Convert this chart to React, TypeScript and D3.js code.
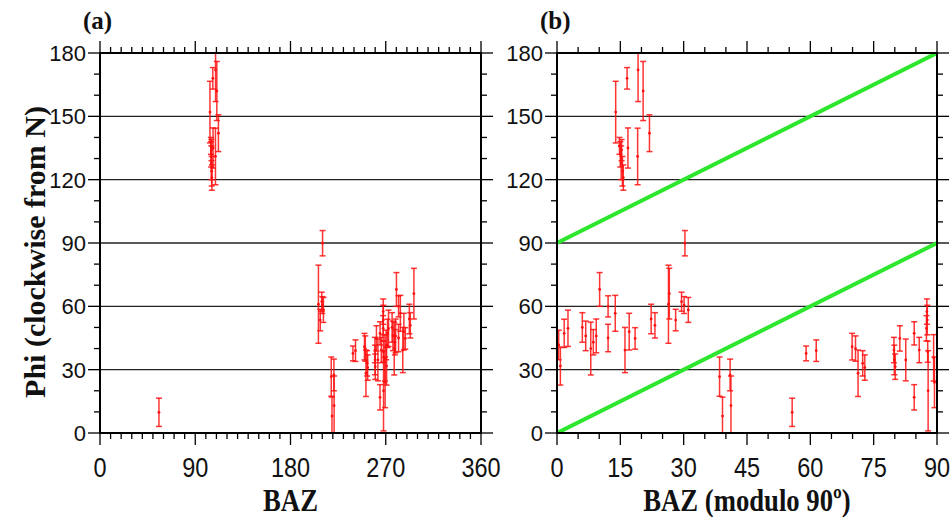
import React from 'react';
import * as d3 from 'd3';

// back azimuth (deg), fast polarisation direction phi (deg) and its error bar (deg)
const baz = [
  55.7,
  103.9, 106.6, 109.2, 110.4, 111.9, 104.8, 105.0, 105.2, 105.5, 105.7, 105.3, 106.8, 109.1,
  206.4, 208.1, 209.5, 210.1, 210.3, 211.1,
  218.5, 219.2, 221.0, 221.2,
  239.0, 241.4, 249.9, 250.7, 251.3, 252.4, 252.9,
  259.8, 259.9, 260.1, 261.2, 262.6, 264.6, 264.6, 265.8, 267.6, 267.7, 267.5, 267.8, 267.9, 269.2, 269.4,
  270.4, 270.8, 271.7, 272.6, 276.0, 276.8, 278.0, 278.6, 279.3, 280.1, 282.1, 282.1, 283.8, 286.1, 287.1, 288.5, 292.3, 293.2, 296.6,
];
const phi = [
  9.8,
  152, 168, 172, 162, 142, 136, 132, 128, 124, 121, 134, 135, 131,
  61, 53.5, 62.2, 60.6, 89.9, 58.3,
  26.7, 8, 27.5, 13,
  37.7, 39, 40.9, 40, 28.3, 33, 31,
  39.3, 34.6, 31.4, 44.8, 34.6, 47.2, 16.9, 39.3, 57.5, 53.5, 49.6, 38.5, 20, 35.6, 24,
  41.7, 31.7, 47.2, 49.6, 50, 46, 40, 43, 46, 68, 60, 45, 56.7, 39.3, 48, 44.8, 54, 51, 66,
];
const phiErr = [
  6.7,
  14.6, 5.1, 15, 14, 8.7, 4, 6, 8, 7, 6, 5, 9.5, 13.4,
  18.5, 5.1, 4.5, 4, 6, 5.9,
  9.3, 9, 7.5, 14,
  3.5, 5.1, 6.3, 6, 11, 6, 6,
  6, 7, 6, 6, 9.9, 5.5, 6, 6, 6, 7, 6, 5, 19, 11, 12,
  7, 9, 6.7, 8.6, 7, 7, 12.5, 6, 8, 8, 5, 6.5, 8.5, 10.7, 8.7, 5.1, 7, 6, 12,
];

// reference lines phi = BAZ and phi = BAZ + 90 in panel (b)
const refLines = [
  [[0, 0], [90, 90]],
  [[0, 90], [90, 180]],
];

const yTicks = [0, 30, 60, 90, 120, 150, 180];
const gridTicks = [30, 60, 90, 120, 150];
const xTicksA = [0, 90, 180, 270, 360];
const xTicksB = [0, 15, 30, 45, 60, 75, 90];

const TOP = 53;
const BOTTOM = 433;
const RED = '#ff1010';
const GREEN = '#2ee62e';
const SERIF = '"Liberation Serif", "Times New Roman", serif';

const y = d3.scaleLinear().domain([0, 180]).range([BOTTOM, TOP]);

const Panel = ({ id, x0, x1, xMax, majors, minorStep, mod, letter, title, lines }) => {
  const x = d3.scaleLinear().domain([0, xMax]).range([x0, x1]);
  const xMinor = d3.range(0, xMax + 0.001, minorStep);
  const yMinor = d3.range(0, 180.001, 10);
  const line = d3.line().x(d => x(d[0])).y(d => y(d[1]));
  const maj = 12, min = 6;
  const tickFont = '"Liberation Sans", Arial, sans-serif';
  return (
    <g>
      <defs>
        <clipPath id={`clip-${id}`}>
          <rect x={x0} y={TOP} width={x1 - x0} height={BOTTOM - TOP} />
        </clipPath>
      </defs>
      {gridTicks.map(t => (
        <line key={t} x1={x0} x2={x1} y1={y(t)} y2={y(t)} stroke="#222" strokeWidth={1.3} />
      ))}
      <g clipPath={`url(#clip-${id})`}>
        {lines && refLines.map((l, i) => (
          <path key={i} d={line(l)} fill="none" stroke={GREEN} strokeWidth={4} />
        ))}
        {baz.map((b, i) => {
          const cx = x(mod ? b % 90 : b);
          const lo = y(phi[i] - phiErr[i]);
          const hi = y(phi[i] + phiErr[i]);
          return (
            <g key={i} stroke={RED} strokeOpacity={0.85} strokeWidth={1.5}>
              <line x1={cx} x2={cx} y1={lo} y2={hi} />
              <line x1={cx - 3} x2={cx + 3} y1={lo} y2={lo} />
              <line x1={cx - 3} x2={cx + 3} y1={hi} y2={hi} />
              <circle cx={cx} cy={y(phi[i])} r={1.4} fill={RED} stroke="none" />
            </g>
          );
        })}
      </g>
      <rect x={x0} y={TOP} width={x1 - x0} height={BOTTOM - TOP} fill="none" stroke="#000" strokeWidth={2} />
      {xMinor.map(t => {
        const len = majors.includes(t) ? maj : min;
        return (
          <g key={t} stroke="#000" strokeWidth={1.3}>
            <line x1={x(t)} x2={x(t)} y1={TOP} y2={TOP - len} />
            <line x1={x(t)} x2={x(t)} y1={BOTTOM} y2={BOTTOM + len} />
          </g>
        );
      })}
      {yMinor.map(t => {
        const len = yTicks.includes(t) ? maj : min;
        return (
          <g key={t} stroke="#000" strokeWidth={1.3}>
            <line x1={x0} x2={x0 - len} y1={y(t)} y2={y(t)} />
            <line x1={x1} x2={x1 + len} y1={y(t)} y2={y(t)} />
          </g>
        );
      })}
      {yTicks.map(t => (
        <text key={t} x={x0 - 14} y={y(t)} dy="0.36em" textAnchor="end"
          fontFamily={tickFont} fontSize={22} fill="#111">{t}</text>
      ))}
      {majors.map(t => (
        <text key={t} transform={`translate(${x(t)}, 477) scale(0.84, 1)`} textAnchor="middle"
          fontFamily={tickFont} fontSize={28} fill="#111">{t}</text>
      ))}
      <text transform={`translate(${(x0 + x1) / 2}, 511) scale(0.92, 1.08)`} textAnchor="middle" fontFamily={SERIF}
        fontWeight="bold" fontSize={29} fill="#111">{title}</text>
      <text x={x0 - 17} y={29} fontFamily={SERIF}
        fontWeight="bold" fontSize={25} fill="#111">{letter}</text>
    </g>
  );
};

export default function App() {
  return (
    <div style={{ position: 'absolute', left: 0, top: 0 }}>
      <svg width={952} height={517} style={{ display: 'block', background: '#fff' }}>
        <Panel id="a" x0={100} x1={481} xMax={360} majors={xTicksA} minorStep={10}
          mod={false} letter="(a)" title="BAZ" lines={false} />
        <Panel id="b" x0={557} x1={937} xMax={90} majors={xTicksB} minorStep={5}
          mod={true} letter="(b)" title="BAZ (modulo 90º)" lines={true} />
        <text transform={`translate(45, ${(TOP + BOTTOM) / 2 + 9}) rotate(-90)`} textAnchor="middle"
          fontFamily={SERIF} fontWeight="bold" fontSize={30} fill="#111">
          Phi (clockwise from N)
        </text>
      </svg>
    </div>
  );
}
